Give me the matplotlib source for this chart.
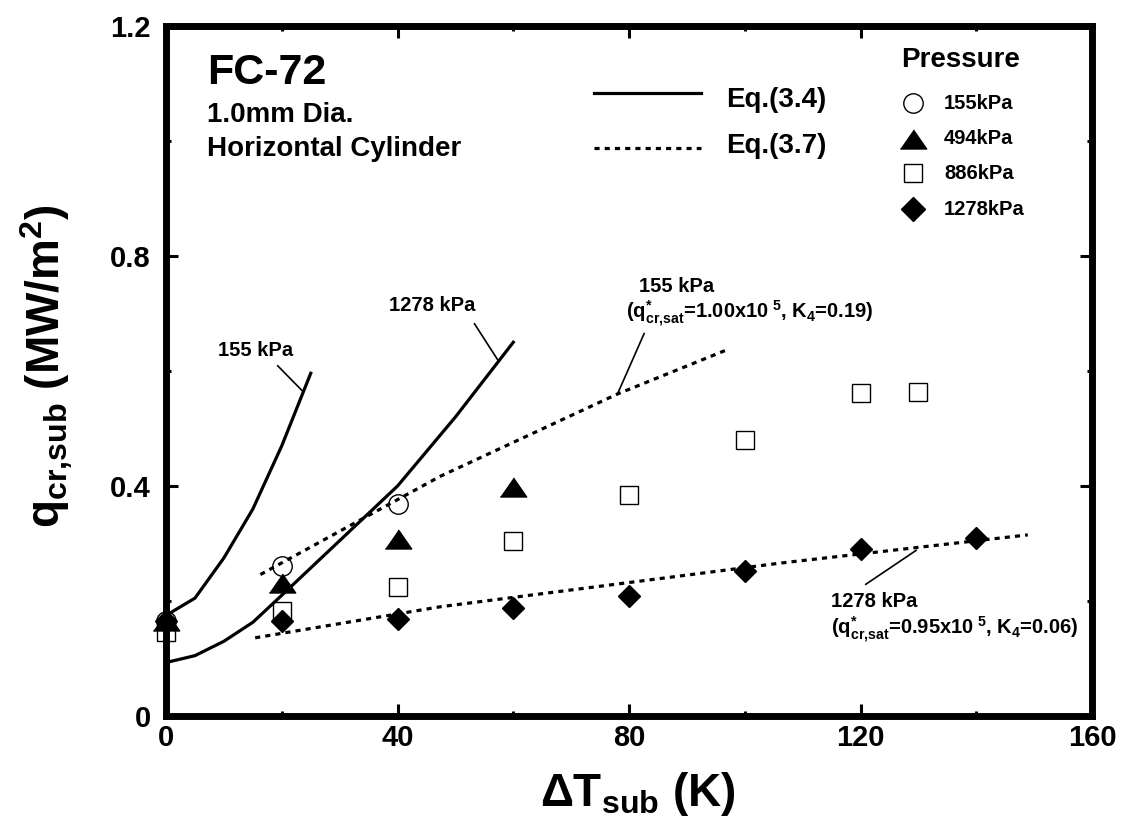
import numpy as np
import matplotlib
matplotlib.use("Agg")
import matplotlib.pyplot as plt

plt.rcParams['font.family'] = ['Liberation Sans', 'DejaVu Sans']
plt.rcParams['font.weight'] = 'bold'
plt.rcParams['axes.labelweight'] = 'bold'
plt.rcParams['mathtext.fontset'] = 'custom'
plt.rcParams['mathtext.rm'] = 'Liberation Sans:bold'
plt.rcParams['mathtext.it'] = 'Liberation Sans:bold'
plt.rcParams['mathtext.bf'] = 'Liberation Sans:bold'

# measured CHF data, q_cr,sub (MW/m2) vs subcooling (K)
dt_155 = [0, 20, 40]
q_155 = [0.165, 0.261, 0.369]
dt_494 = [0, 20, 40, 60]
q_494 = [0.165, 0.232, 0.307, 0.398]
dt_886 = [0, 20, 40, 60, 80, 100, 120, 130]
q_886 = [0.146, 0.182, 0.224, 0.305, 0.384, 0.480, 0.561, 0.564]
dt_1278 = [0, 20, 40, 60, 80, 100, 120, 140]
q_1278 = [0.165, 0.165, 0.169, 0.188, 0.208, 0.253, 0.290, 0.309]

# Eq.(3.4) curves
eq34_155_x = [0, 5, 10, 15, 20, 25]
eq34_155_y = [0.175, 0.205, 0.275, 0.360, 0.470, 0.596]
eq34_1278_x = [0, 5, 10, 15, 20, 30, 40, 50, 60]
eq34_1278_y = [0.093, 0.105, 0.130, 0.163, 0.210, 0.305, 0.400, 0.520, 0.650]

# Eq.(3.7) curves
eq37_155_x = [16.3, 47.4, 78.0, 96.7]
eq37_155_y = [0.246, 0.417, 0.560, 0.636]
eq37_1278_x = [15.4, 47.4, 106.2, 148.9]
eq37_1278_y = [0.136, 0.190, 0.266, 0.315]

pressures = ['155kPa', '494kPa', '886kPa', '1278kPa']

fig = plt.figure(figsize=(11.25, 8.39), dpi=100)
ax = fig.add_axes([0.1476, 0.1466, 0.8231, 0.8224])

dots = (0, (1.6, 1.6))
ax.plot(eq34_155_x, eq34_155_y, color='black', lw=2.3)
ax.plot(eq34_1278_x, eq34_1278_y, color='black', lw=2.3)
ax.plot(eq37_155_x, eq37_155_y, color='black', lw=2.3, ls=dots)
ax.plot(eq37_1278_x, eq37_1278_y, color='black', lw=2.3, ls=dots)

tri = [(-1, -0.72), (1, -0.72), (0, 0.72)]
ax.plot(dt_886, q_886, 's', ms=13.5, mfc='none', mec='black', mew=1.0, clip_on=False)
ax.plot(dt_155, q_155, 'o', ms=14, mfc='none', mec='black', mew=1.0, clip_on=False)
ax.plot(dt_494, q_494, marker=tri, ls='none', ms=19, color='black', clip_on=False)
ax.plot(dt_1278, q_1278, 'D', ms=11.5, color='black', clip_on=False)

ax.set_xlim(0, 160)
ax.set_ylim(0, 1.2)
ax.set_xticks([0, 40, 80, 120, 160])
ax.set_xticks([20, 60, 100, 140], minor=True)
ax.set_yticks([0, 0.4, 0.8, 1.2])
ax.set_yticklabels(['0', '0.4', '0.8', '1.2'])
ax.set_yticks([0.2, 0.6, 1.0], minor=True)
ax.tick_params(which='both', direction='in', top=True, right=True, width=2.2)
ax.tick_params(which='major', length=8.5, labelsize=21)
ax.tick_params(which='minor', length=3.6)
ax.tick_params(axis='y', pad=11)
ax.tick_params(axis='x', pad=6)
for s in ax.spines.values():
    s.set_linewidth(5)

ax.set_xlabel(r'ΔT$_{sub}$ (K)', fontsize=33, fontweight='bold')
ax.xaxis.set_label_coords(0.51, -0.078, transform=ax.transAxes)
ax.xaxis.label.set_va('top')
ax.set_ylabel(r'q$_{cr{,}sub}$ (MW/m$^2$)', fontsize=33, fontweight='bold')
ax.yaxis.set_label_coords(-0.098, 0.507)

# heading
ax.text(7.1, 1.099, 'FC-72', fontsize=31, va='baseline')
ax.text(7.1, 1.033, '1.0mm Dia.', fontsize=20, va='baseline')
ax.text(7.1, 0.974, 'Horizontal Cylinder', fontsize=20, va='baseline')

# line key
ax.plot([74.0, 92.4], [1.084, 1.084], color='black', lw=2.3)
ax.text(96.8, 1.072, 'Eq.(3.4)', fontsize=20, va='center')
ax.plot([74.0, 92.4], [0.9885, 0.9885], color='black', lw=2.3, ls=dots)
ax.text(96.8, 0.991, 'Eq.(3.7)', fontsize=20, va='center')

# pressure key
ax.text(127.0, 1.141, 'Pressure', fontsize=20, va='center')
key_y = [1.066, 1.0035, 0.944, 0.881]
ax.plot(129.0, key_y[0], 'o', ms=14, mfc='none', mec='black', mew=1.0)
ax.plot(129.0, key_y[1], marker=tri, ms=19, color='black')
ax.plot(129.0, key_y[2], 's', ms=13.5, mfc='none', mec='black', mew=1.0)
ax.plot(129.0, key_y[3], 'D', ms=12.5, color='black')
for label, y in zip(pressures, key_y):
    ax.text(134.4, y, label, fontsize=14.5, va='center')

# curve labels
ax.plot([19.3, 23.5], [0.609, 0.566], color='black', lw=1.2)
ax.text(15.5, 0.635, '155 kPa', fontsize=14.5, ha='center', va='center')
ax.plot([53.3, 57.4], [0.682, 0.618], color='black', lw=1.2)
ax.text(46.0, 0.714, '1278 kPa', fontsize=14.5, ha='center', va='center')

ax.plot([78.0, 82.6], [0.560, 0.665], color='black', lw=1.2)
ax.text(81.7, 0.738, '155 kPa', fontsize=14.5, va='baseline')
ax.text(79.4, 0.690, r'(q$^{*}_{cr{,}sat}$=1.00x10$^{\ 5}$, K$_{4}$=0.19)', fontsize=14.5, va='baseline')

ax.plot([129.6, 120.9], [0.288, 0.229], color='black', lw=1.2)
ax.text(114.9, 0.190, '1278 kPa', fontsize=14.5, va='baseline')
ax.text(114.9, 0.142, r'(q$^{*}_{cr{,}sat}$=0.95x10$^{\ 5}$, K$_{4}$=0.06)', fontsize=14.5, va='baseline')

fig.savefig('out.png', dpi=100)
